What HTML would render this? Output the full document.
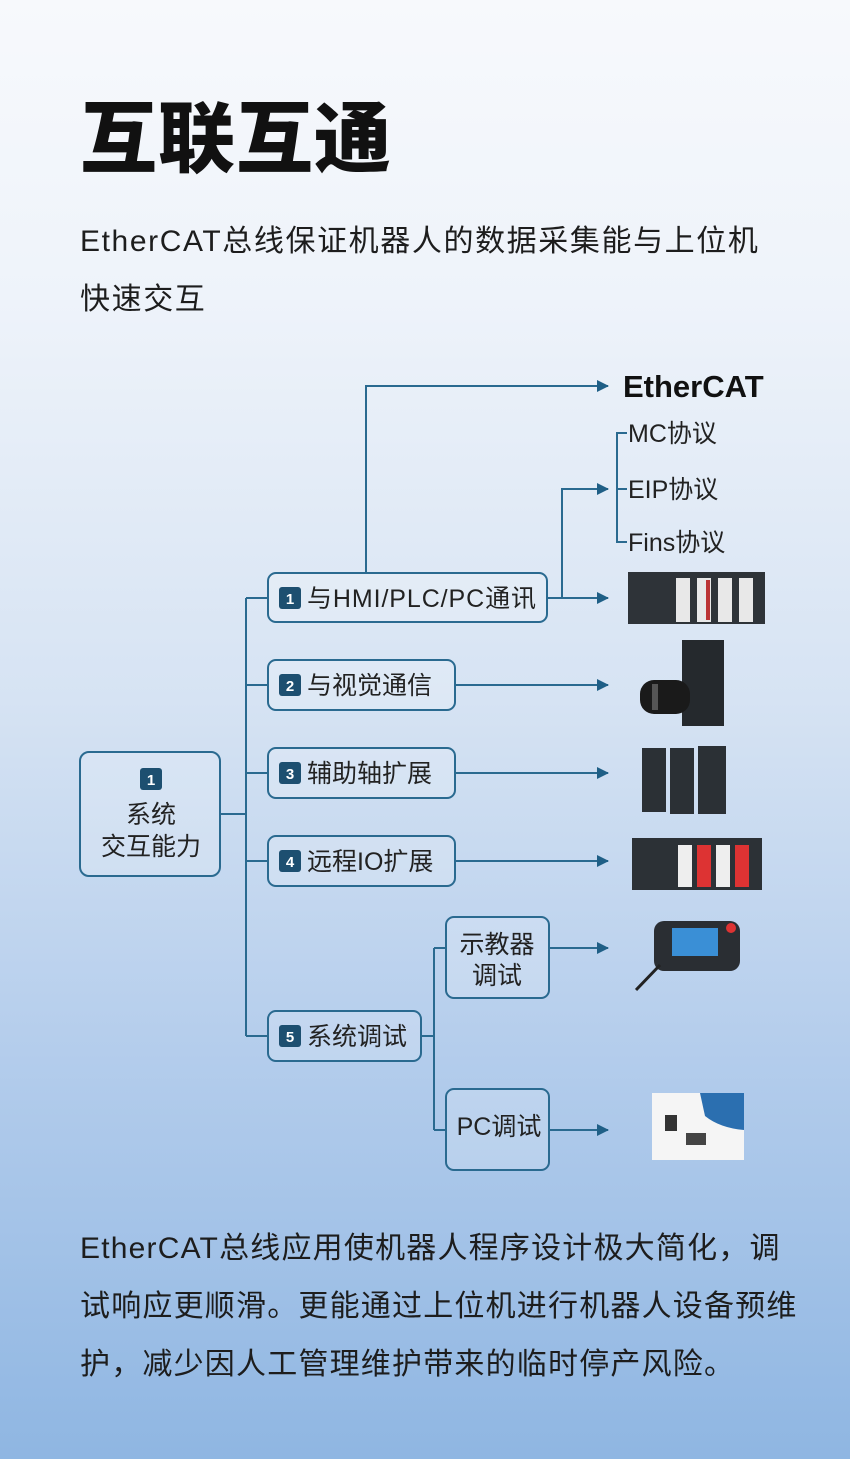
<!DOCTYPE html>
<html><head><meta charset="utf-8"><style>
html,body{margin:0;padding:0}
body{width:850px;height:1459px;position:relative;overflow:hidden;
background:linear-gradient(180deg,#f7f9fc 0px,#eef3fa 300px,#d6e3f3 700px,#b4cdec 1050px,#8fb6e2 1459px);
font-family:"Liberation Sans","Noto Sans CJK SC",sans-serif;color:#1d1d1d}
.t{position:absolute;left:80px;white-space:nowrap}
svg{position:absolute;left:0;top:0}
</style></head><body>
<div class="t" style="top:78px;font-size:77px;font-weight:900;letter-spacing:1px;color:#111">互联互通</div>
<div class="t" style="top:213px;font-size:30px;line-height:58px;letter-spacing:1.6px">EtherCAT总线保证机器人的数据采集能与上位机<br>快速交互</div>
<div class="t" style="top:1220px;font-size:30px;line-height:58px;letter-spacing:1.2px">EtherCAT总线应用使机器人程序设计极大简化，调<br>试响应更顺滑。更能通过上位机进行机器人设备预维<br>护，减少因人工管理维护带来的临时停产风险。</div>
<svg width="850" height="1459" viewBox="0 0 850 1459" font-family="Liberation Sans, Noto Sans CJK SC, sans-serif">
<defs><marker id="a" markerWidth="12" markerHeight="12" refX="11" refY="6" orient="auto" markerUnits="userSpaceOnUse"><path d="M0,0 L12,6 L0,12 z" fill="#1f5f86"/></marker></defs>
<g stroke="#2a6a90" stroke-width="2" fill="none">
<path d="M220,814 H246 M246,598 V1036 M246,598 H268 M246,685 H268 M246,773 H268 M246,861 H268 M246,1036 H268"/>
<path d="M547,598 H608" marker-end="url(#a)"/>
<path d="M562,598 V489 H608" marker-end="url(#a)"/>
<path d="M366,573 V386 H608" marker-end="url(#a)"/>
<path d="M627,433 H617 V542 H627 M617,489 H627"/>
<path d="M455,685 H608" marker-end="url(#a)"/>
<path d="M455,773 H608" marker-end="url(#a)"/>
<path d="M455,861 H608" marker-end="url(#a)"/>
<path d="M549,948 H608" marker-end="url(#a)"/>
<path d="M549,1130 H608" marker-end="url(#a)"/>
<path d="M421,1036 H434 M434,948 V1130 M434,948 H446 M434,1130 H446"/>
</g>
<g stroke="#2a6a90" stroke-width="2" fill="rgba(255,255,255,0.18)">
<rect x="80" y="752" width="140" height="124" rx="9"/>
<rect x="268" y="573" width="279" height="49" rx="8"/>
<rect x="268" y="660" width="187" height="50" rx="8"/>
<rect x="268" y="748" width="187" height="50" rx="8"/>
<rect x="268" y="836" width="187" height="50" rx="8"/>
<rect x="268" y="1011" width="153" height="50" rx="8"/>
<rect x="446" y="917" width="103" height="81" rx="8"/>
<rect x="446" y="1089" width="103" height="81" rx="8"/>
</g>
<g fill="#1d4f70">
<rect x="140" y="768" width="22" height="22" rx="3"/>
<rect x="279" y="587" width="22" height="22" rx="3"/>
<rect x="279" y="674" width="22" height="22" rx="3"/>
<rect x="279" y="762" width="22" height="22" rx="3"/>
<rect x="279" y="850" width="22" height="22" rx="3"/>
<rect x="279" y="1025" width="22" height="22" rx="3"/>
</g>
<g fill="#fff" font-size="15" font-weight="bold" text-anchor="middle">
<text x="151" y="785">1</text><text x="290" y="604">1</text><text x="290" y="691">2</text>
<text x="290" y="779">3</text><text x="290" y="867">4</text><text x="290" y="1042">5</text>
</g>
<g fill="#222" font-size="25">
<text x="151" y="823" text-anchor="middle">系统</text>
<text x="151" y="855" text-anchor="middle">交互能力</text>
<text x="307" y="607" textLength="229">与HMI/PLC/PC通讯</text>
<text x="307" y="694">与视觉通信</text>
<text x="307" y="782">辅助轴扩展</text>
<text x="307" y="870">远程IO扩展</text>
<text x="307" y="1045">系统调试</text>
<text x="497" y="953" text-anchor="middle">示教器</text>
<text x="497" y="984" text-anchor="middle">调试</text>
<text x="499" y="1135" text-anchor="middle">PC调试</text>
<text x="628" y="442">MC协议</text>
<text x="628" y="498">EIP协议</text>
<text x="628" y="551">Fins协议</text>
</g>
<text x="623" y="397" font-size="31" font-weight="bold" fill="#111">EtherCAT</text>
<g><rect x="628" y="572" width="137" height="52" fill="#2e3338"/>
<rect x="676" y="578" width="14" height="44" fill="#e8e8e8"/><rect x="697" y="578" width="14" height="44" fill="#e8e8e8"/>
<rect x="718" y="578" width="14" height="44" fill="#e8e8e8"/><rect x="739" y="578" width="14" height="44" fill="#e8e8e8"/>
<rect x="706" y="580" width="4" height="40" fill="#b33"/></g>
<g><rect x="682" y="640" width="42" height="86" fill="#25292d"/>
<rect x="640" y="680" width="50" height="34" rx="14" fill="#1a1a1a"/><rect x="652" y="684" width="6" height="26" fill="#555"/></g>
<g fill="#2b3035"><rect x="642" y="748" width="24" height="64"/><rect x="670" y="748" width="24" height="66"/><rect x="698" y="746" width="28" height="68"/></g>
<g><rect x="632" y="838" width="130" height="52" fill="#2c3136"/>
<rect x="678" y="845" width="14" height="42" fill="#eee"/><rect x="697" y="845" width="14" height="42" fill="#d33"/>
<rect x="716" y="845" width="14" height="42" fill="#eee"/><rect x="735" y="845" width="14" height="42" fill="#d33"/></g>
<g><rect x="654" y="921" width="86" height="50" rx="10" fill="#2a2e33"/>
<rect x="672" y="928" width="46" height="28" fill="#3a8fd6"/><circle cx="731" cy="928" r="5" fill="#d33"/>
<line x1="660" y1="965" x2="636" y2="990" stroke="#222" stroke-width="3"/></g>
<g><rect x="652" y="1093" width="92" height="67" fill="#f5f5f5"/>
<path d="M700,1093 H744 V1130 Q720,1128 705,1116 Z" fill="#2b6fb0"/>
<rect x="665" y="1115" width="12" height="16" fill="#333"/><rect x="686" y="1133" width="20" height="12" fill="#444"/></g>
</svg>
</body></html>
